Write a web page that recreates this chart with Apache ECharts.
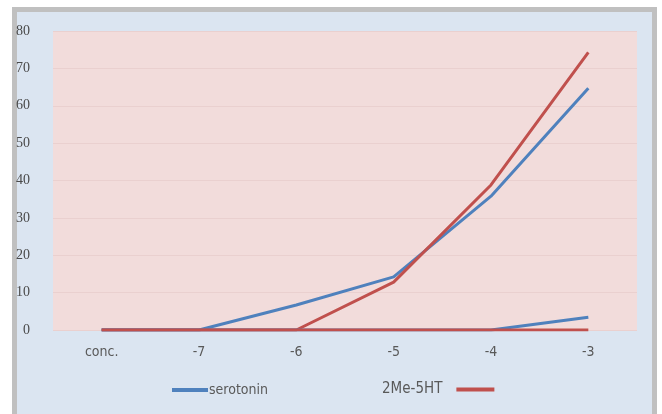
<!DOCTYPE html>
<html>
<head>
<meta charset="utf-8">
<script src="https://cdn.jsdelivr.net/npm/echarts@6/dist/echarts.min.js"></script>
<style>
  html, body { margin: 0; padding: 0; background: #ffffff; }
  #chart { width: 662px; height: 414px; }
</style>
</head>
<body>
<div id="chart"></div>
<script>
// Concentration steps (log M) along the x axis
const categories = ['conc.', '-7', '-6', '-5', '-4', '-3'];
// Response per agonist
const serotonin = [0, 0, 6.7, 14.2, 35.8, 64.7];
const me5ht = [0, 0, 0, 12.8, 38.8, 74.3];
// Baseline traces
const baselineBlue = [0, 0, 0, 0, 0, 3.4];
const baselineRed = [0, 0, 0, 0, 0, 0];
const yTicks = { min: 0, max: 80, interval: 10 };

const BLUE = '#4f81bd';
const RED = '#c0504d';
const NARROW = '"Liberation Sans Narrow", "DejaVu Sans Condensed", sans-serif';

const chart = echarts.init(document.getElementById('chart'), null, { renderer: 'canvas' });

const lineSeries = (name, data, color, z) => ({
  name: name,
  type: 'line',
  data: data,
  symbol: 'none',
  smooth: false,
  z: z,
  lineStyle: { color: color, width: 3 },
  itemStyle: { color: color },
  emphasis: { disabled: true }
});

chart.setOption({
  animation: false,
  backgroundColor: '#ffffff',
  graphic: [{
    type: 'rect',
    z: -10,
    silent: true,
    shape: { x: 14.5, y: 9.5, width: 640, height: 407 },
    style: { fill: '#dbe5f1', stroke: '#c0c0c0', lineWidth: 5 }
  }],
  grid: {
    left: 53, right: 25, top: 31, bottom: 84,
    show: true,
    backgroundColor: '#f2dcdb',
    borderWidth: 0
  },
  legend: [{
    data: [{ name: 'serotonin' }],
    left: 172, top: 383,
    padding: 0,
    icon: 'rect',
    itemWidth: 36, itemHeight: 4,
    textStyle: { color: '#595959', fontSize: 14, fontFamily: NARROW, padding: [0, 0, 0, -4] },
    selectedMode: false
  }, {
    data: [{ name: '2Me-5HT' }],
    left: 382, top: 382,
    padding: 0,
    align: 'right',
    icon: 'rect',
    itemWidth: 38, itemHeight: 4,
    textStyle: { color: '#595959', fontSize: 15, fontFamily: NARROW, padding: [0, 9, 0, 0] },
    selectedMode: false
  }],
  xAxis: {
    type: 'category',
    data: categories,
    boundaryGap: true,
    axisLine: { show: false },
    axisTick: { show: false },
    axisLabel: {
      color: '#595959',
      fontSize: 14,
      margin: 15,
      fontFamily: NARROW
    },
    splitLine: { show: false }
  },
  yAxis: {
    type: 'value',
    min: yTicks.min,
    max: yTicks.max,
    interval: yTicks.interval,
    axisLine: { show: false },
    axisTick: { show: false },
    axisLabel: {
      color: '#4a4a4a',
      fontSize: 14,
      margin: 23,
      fontFamily: '"Liberation Serif", "DejaVu Serif", serif'
    },
    splitLine: { show: true, lineStyle: { color: '#ead0cf', width: 1 } }
  },
  series: [
    lineSeries('serotonin', serotonin, BLUE, 2),
    lineSeries('2Me-5HT', me5ht, RED, 3),
    lineSeries('', baselineBlue, BLUE, 4),
    lineSeries(' ', baselineRed, RED, 5)
  ]
});
</script>
</body>
</html>
